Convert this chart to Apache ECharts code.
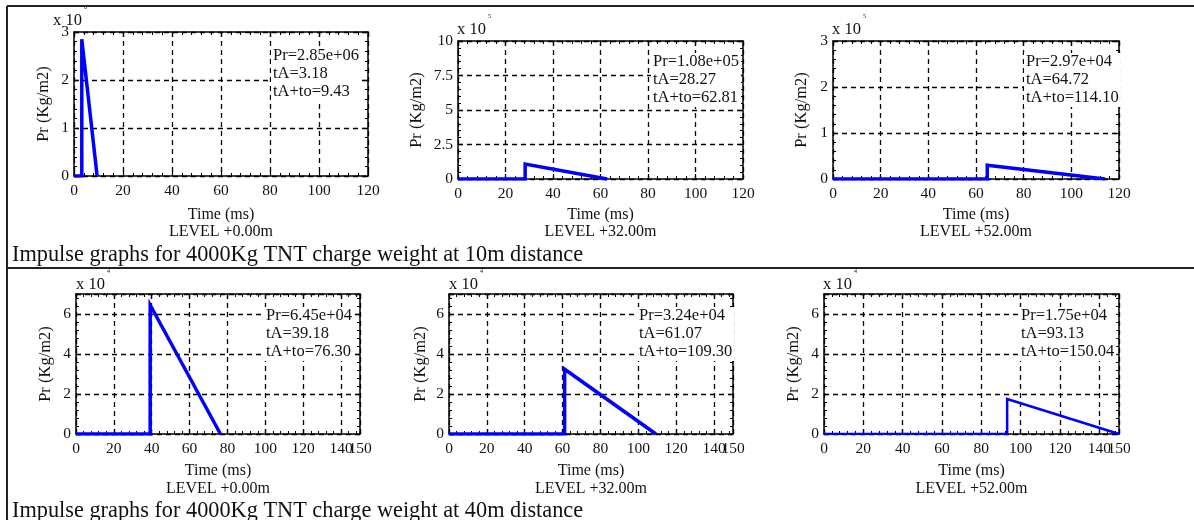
<!DOCTYPE html>
<html>
<head>
<meta charset="utf-8">
<script src="https://cdn.jsdelivr.net/npm/echarts@6/dist/echarts.min.js"></script>
<style>
  html, body { margin: 0; padding: 0; background: #fff; }
  #impulseChart { width: 1194px; height: 520px; }
</style>
</head>
<body>
<div id="impulseChart"></div>
<script>
// values, one entry per panel (top row first)
const levels = ['LEVEL +0.00m', 'LEVEL +32.00m', 'LEVEL +52.00m', 'LEVEL +0.00m', 'LEVEL +32.00m', 'LEVEL +52.00m'];
const peakLabel = ['2.85e+06', '1.08e+05', '2.97e+04', '6.45e+04', '3.24e+04', '1.75e+04'];
const arrivalTime = [3.18, 28.27, 64.72, 39.18, 61.07, 93.13];
const endTime = [9.43, 62.81, 114.10, 76.30, 109.30, 150.04];
const peakScaled = [2.85, 1.08, 0.297, 6.45, 3.24, 1.75];
const exponents = ['6', '5', '5', '4', '4', '4'];
const yMax = [3, 10, 3, 7, 7, 7];
const yStep = [1, 2.5, 1, 2, 2, 2];
const xMax = [120, 120, 120, 150, 150, 150];
const xStep = 20;
const captions = [
  'Impulse graphs for 4000Kg TNT charge weight at 10m distance',
  'Impulse graphs for 4000Kg TNT charge weight at 40m distance'
];

const FONT = 'Liberation Serif';
const INK = '#111';

// panel layout
const grids = [
  { left: 74, top: 32, width: 294, height: 144 },
  { left: 458, top: 41, width: 285, height: 138 },
  { left: 833, top: 41, width: 286, height: 138 },
  { left: 76, top: 294, width: 284, height: 140 },
  { left: 449, top: 294, width: 284, height: 140 },
  { left: 824, top: 294, width: 295, height: 140 }
];
const yNameGap = [22, 33, 23, 22, 20, 22];
const xNameGap = [30, 27, 27, 28.5, 28.5, 28.5];
const notePos = [[271, 47], [651, 53], [1024, 53], [264, 307], [637, 307], [1019, 307]];
const scalePos = [[53, 21], [457, 30], [832, 30], [76, 285], [449, 285], [823, 285]];
const lineWidths = [3.5, 3.5, 3.5, 3.5, 3.5, 2.5];

function tickStyle() {
  return { show: true, inside: true, length: 5, lineStyle: { color: '#000', width: 1.2 } };
}
function minorStyle() {
  return { show: true, splitNumber: 5, length: 3, lineStyle: { color: '#000', width: 1 } };
}
function labelStyle(extra) {
  return Object.assign({ color: INK, fontFamily: FONT, fontSize: 15.5 }, extra);
}

const chart = echarts.init(document.getElementById('impulseChart'));

const xAxis = [];
const yAxis = [];
const series = [];
const graphic = [];

grids.forEach((g, i) => {
  const oddEnd = xMax[i] % xStep !== 0;
  // bottom x axis
  xAxis.push({
    type: 'value', gridIndex: i, position: 'bottom', min: 0, max: xMax[i], interval: xStep,
    name: 'Time (ms)\n' + levels[i], nameLocation: 'middle', nameGap: xNameGap[i],
    nameTextStyle: { color: INK, fontFamily: FONT, fontSize: 16, lineHeight: 17.5 },
    axisLine: { show: true, onZero: false, lineStyle: { color: '#000', width: 1.5 } },
    axisTick: tickStyle(), minorTick: minorStyle(),
    axisLabel: labelStyle({ margin: 7, showMinLabel: true, showMaxLabel: !oddEnd }),
    splitLine: { show: true, lineStyle: { color: '#000', type: [5, 4], width: 1.3 } }
  });
  // mirrored top ticks
  xAxis.push({
    type: 'value', gridIndex: i, position: 'top', min: 0, max: xMax[i], interval: xStep,
    axisLine: { show: true, onZero: false, lineStyle: { color: '#000', width: 1.5 } },
    axisTick: tickStyle(), minorTick: minorStyle(),
    axisLabel: { show: false }, splitLine: { show: false }
  });
  // end label when the range does not stop on a tick (140 and 150 crowd each other)
  if (oddEnd) {
    xAxis.push({
      type: 'value', gridIndex: i, position: 'bottom', min: 0, max: xMax[i], interval: xStep,
      axisLine: { show: false }, axisTick: { show: false }, splitLine: { show: false },
      axisLabel: labelStyle({
        margin: 7, showMaxLabel: true, showMinLabel: false,
        formatter: v => (v === xMax[i] ? String(v) : '')
      })
    });
  }
  yAxis.push({
    type: 'value', gridIndex: i, position: 'left', min: 0, max: yMax[i], interval: yStep[i],
    name: 'Pr (Kg/m2)', nameLocation: 'middle', nameRotate: 90, nameGap: yNameGap[i],
    nameTextStyle: { color: INK, fontFamily: FONT, fontSize: 16.5 },
    axisLine: { show: true, onZero: false, lineStyle: { color: '#000', width: 1.5 } },
    axisTick: tickStyle(), minorTick: minorStyle(),
    axisLabel: labelStyle({ margin: 5, showMaxLabel: yMax[i] % yStep[i] === 0 }),
    splitLine: { show: true, lineStyle: { color: '#000', type: [5, 4], width: 1.3 } }
  });
  yAxis.push({
    type: 'value', gridIndex: i, position: 'right', min: 0, max: yMax[i], interval: yStep[i],
    axisLine: { show: true, onZero: false, lineStyle: { color: '#000', width: 1.5 } },
    axisTick: tickStyle(), minorTick: minorStyle(),
    axisLabel: { show: false }, splitLine: { show: false }
  });
});

// one blue pulse per panel: flat, jump to the peak at tA, straight fall to zero at tA+to
let xIdx = 0;
grids.forEach((g, i) => {
  series.push({
    type: 'line', xAxisIndex: xIdx, yAxisIndex: i * 2,
    data: [[0, 0], [arrivalTime[i], 0], [arrivalTime[i], peakScaled[i]], [endTime[i], 0]],
    symbol: 'none', clip: true, z: 5,
    lineStyle: { color: '#0000ff', width: lineWidths[i], join: 'miter' }
  });
  xIdx += xMax[i] % xStep !== 0 ? 3 : 2;

  // result note in the corner
  graphic.push({
    type: 'text', z: 100, x: notePos[i][0], y: notePos[i][1],
    style: {
      text: 'Pr=' + peakLabel[i] + '\ntA=' + arrivalTime[i].toFixed(2) + '\ntA+to=' + endTime[i].toFixed(2),
      font: '16.5px "' + FONT + '"', fill: INK, lineHeight: 18,
      backgroundColor: '#fff', padding: [0, 2]
    }
  });
  // x 10^n scale marker
  graphic.push({
    type: 'text', z: 100, x: scalePos[i][0], y: scalePos[i][1],
    style: { text: 'x 10', font: '16.5px "' + FONT + '"', fill: INK, verticalAlign: 'middle' }
  });
  graphic.push({
    type: 'text', z: 100, x: scalePos[i][0] + 31, y: scalePos[i][1] - 14,
    style: { text: exponents[i], font: '6px "' + FONT + '"', fill: INK, verticalAlign: 'middle' }
  });
});

captions.forEach((c, k) => {
  graphic.push({
    type: 'text', z: 100, x: 12, y: k === 0 ? 255 : 511,
    style: { text: c, font: '22.3px "' + FONT + '"', fill: INK, verticalAlign: 'middle' }
  });
});

// frame lines of the figure table
graphic.push(
  { type: 'line', z: 100, shape: { x1: 7, y1: 6, x2: 1194, y2: 6 }, style: { stroke: '#222', lineWidth: 2 } },
  { type: 'line', z: 100, shape: { x1: 7, y1: 268, x2: 1194, y2: 268 }, style: { stroke: '#222', lineWidth: 2 } },
  { type: 'line', z: 100, shape: { x1: 7, y1: 6, x2: 7, y2: 520 }, style: { stroke: '#222', lineWidth: 2 } }
);

chart.setOption({
  backgroundColor: '#fff',
  animation: false,
  grid: grids,
  xAxis: xAxis,
  yAxis: yAxis,
  series: series,
  graphic: graphic
});
</script>
</body>
</html>
